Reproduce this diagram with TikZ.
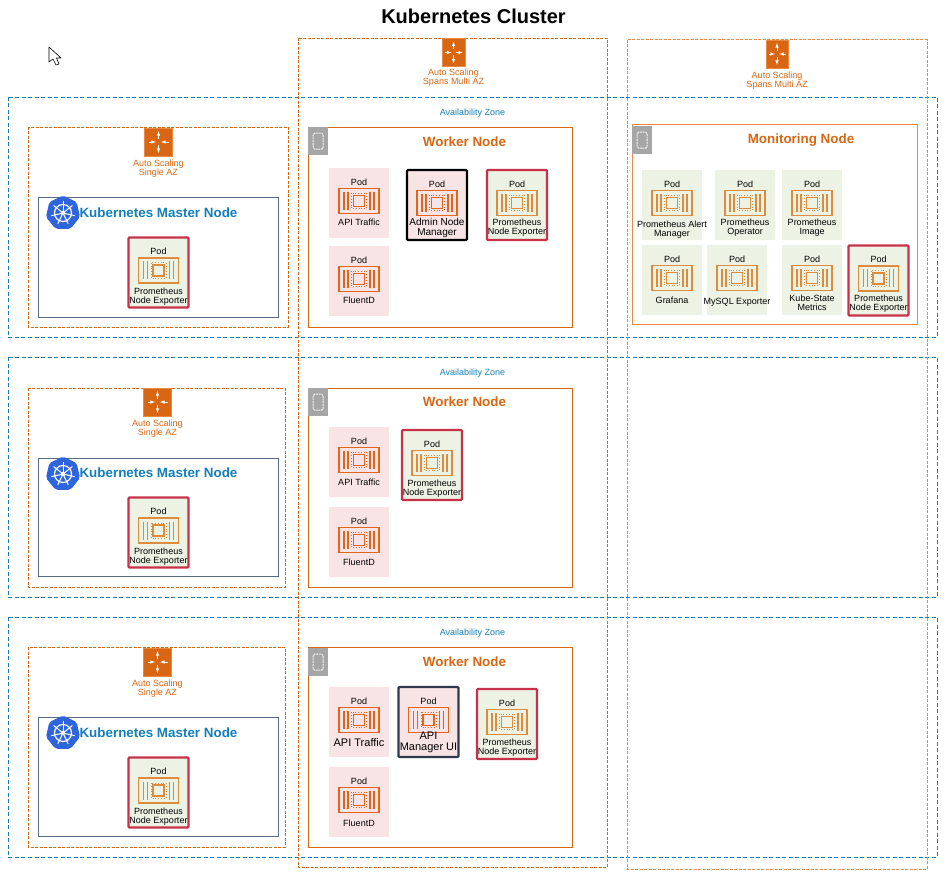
\documentclass[tikz,border=0pt]{standalone}
\usepackage{fontspec}
\setmainfont{Liberation Sans}
\usetikzlibrary{shapes.geometric}

\definecolor{awsorange}{HTML}{D86613}
\definecolor{awslight}{HTML}{E88A45}
\definecolor{awsblue}{HTML}{147EBA}
\definecolor{awsslate}{HTML}{5A6B86}
\definecolor{podpink}{HTML}{F8E4E4}
\definecolor{podgreen}{HTML}{ECF3E4}
\definecolor{podred}{HTML}{C7314A}
\definecolor{poddark}{HTML}{2F3B4C}
\definecolor{kubeblue}{HTML}{2F65DC}
\definecolor{chipgrey}{HTML}{A6A6A6}
\definecolor{icongreen}{HTML}{DD8C3E}
\definecolor{iconpink}{HTML}{E0661E}

\newcommand{\fs}[1]{\fontsize{#1}{#1}\selectfont}

\tikzset{
    x=1pt, y=-1pt,
    zone/.style={draw=awsblue, dash pattern=on 4pt off 2.5pt, line width=0.8pt},
    scaling/.style={draw=awsorange, dash pattern=on 3pt off 1.5pt, line width=0.8pt},
    scalingwide/.style={draw=awslight, dash pattern=on 3pt off 1.5pt, line width=1pt},
    txt/.style={inner sep=0pt, align=center, font=\fs{9}, yshift=-0.8pt},
    txtorange/.style={txt, text=awsorange},
    txtblue/.style={txt, text=awsblue},
    heading/.style={inner sep=0pt, font=\fs{13.4}\bfseries, yshift=-0.8pt},
    podbase/.style={anchor=north west, inner sep=0pt, outer sep=0pt, minimum width=60pt, minimum height=70pt},
    podp/.style={podbase, fill=podpink},
    podg/.style={podbase, fill=podgreen},
    podredbox/.style={podg, draw=podred, line width=2.2pt, rounded corners=1pt},
    podblackbox/.style={podp, draw=black, line width=2.2pt, rounded corners=1pt},
    poddarkbox/.style={podp, draw=poddark, line width=2.2pt, rounded corners=1pt},
    scalebox/.style={fill=awsorange, draw=awslight, line width=0.4pt, inner sep=0pt, minimum height=28pt},
    chipbox/.style={anchor=north west, fill=chipgrey, inner sep=0pt, minimum width=20pt, minimum height=28pt},
    pics/podicon/.style={code={
        \draw[#1, line width=1.4pt] (-20,-12.5) rectangle (20,12.5);
        \draw[#1, line width=1.4pt] (-15,-9) -- (-15,9) (-11,-9) -- (-11,9) (15,-9) -- (15,9) (11,-9) -- (11,9);
        \draw[#1, line width=1.8pt] (-5.5,-5.5) rectangle (5.5,5.5);
        \draw[#1, line width=0.8pt, dotted] (-7.6,-7.6) rectangle (7.6,7.6);
    }},
    pics/scaleicon/.style={code={
        \draw[white, line width=0.6pt, -latex] (0,-3) -- (0,-11);
        \draw[white, line width=0.6pt, -latex] (0,3) -- (0,11);
        \draw[white, line width=0.6pt, -latex] (-10,0) -- (-2.5,0);
        \draw[white, line width=0.6pt, -latex] (10,0) -- (2.5,0);
    }},
    pics/chipicon/.style={code={
        \draw[white!85!chipgrey, line width=1pt, dash pattern=on 2pt off 0.7pt, rounded corners=1.5pt] (-5,-8) rectangle (5,8);
    }},
    pics/kubeicon/.style={code={
        \node[regular polygon, regular polygon sides=7, fill=kubeblue, inner sep=0pt, minimum size=35pt, rounded corners=2pt] {};
        \draw[white, line width=1.2pt] (0,0) circle (8.5);
        \fill[white] (0,0) circle (2.2);
        \foreach \ang in {90,141.4,192.9,244.3,295.7,347.1,38.6} {
            \draw[white, line width=1pt] (0,0) -- (\ang:-12);
        }
    }},
}

\newcommand{\podbox}[7]{
    \node[#4] (#1) at (#2,#3) {};
    \node[txt] (#1-pod) at ([yshift=-13pt]#1.north) {Pod};
    \path (#1.north) ++(0,33) pic {podicon=#5};
    \node[txt] (#1-name) at ([yshift=-#6pt]#1.north) {#7};
}

\begin{document}
\begin{tikzpicture}
    \useasboundingbox (0,0) rectangle (950,885);

    \node[inner sep=0pt, font=\fs{20}\bfseries] (title) at (473.5,16) {Kubernetes Cluster};

    \draw[black, fill=white, line width=0.6pt, line join=round] (49,47) -- (49,62) -- (53,59) -- (56,65) -- (59,64) -- (56.5,58) -- (61,58) -- cycle;

    % availability zones
    \draw[zone] (8,97) rectangle (937,337);
    \draw[zone] (8,357) rectangle (937,597);
    \draw[zone] (8,617) rectangle (937,857);
    \node[txtblue] (zone1) at (472.5,112) {Availability Zone};
    \node[txtblue] (zone2) at (472.5,372) {Availability Zone};
    \node[txtblue] (zone3) at (472.5,632) {Availability Zone};

    % auto scaling groups
    \draw[scaling] (298,38) rectangle (607,867);
    \draw[scalingwide] (627,40) rectangle (927,869);
    \draw[scaling] (28,127) rectangle (288,327);
    \draw[scaling] (28,388) rectangle (285,587);
    \draw[scaling] (28,647) rectangle (285,847);

    \node[scalebox, minimum width=23pt] (span1) at (453.5,52.5) {};
    \path (span1) pic[xscale=0.85] {scaleicon};
    \node[txtorange] (span1-text) at (453.5,77) {Auto Scaling\\Spans Multi AZ};
    \node[scalebox, minimum width=22pt] (span2) at (777,54) {};
    \path (span2) pic[xscale=0.85] {scaleicon};
    \node[txtorange] (span2-text) at (777,79.5) {Auto Scaling\\Spans Multi AZ};

    \node[scalebox, minimum width=28pt] (single1) at (158.5,142) {};
    \path (single1) pic {scaleicon};
    \node[txtorange] (single1-text) at (158.5,167.5) {Auto Scaling\\Single AZ};
    \node[scalebox, minimum width=28pt] (single2) at (157.5,402) {};
    \path (single2) pic {scaleicon};
    \node[txtorange] (single2-text) at (157.5,427.5) {Auto Scaling\\Single AZ};
    \node[scalebox, minimum width=28pt] (single3) at (157.5,662) {};
    \path (single3) pic {scaleicon};
    \node[txtorange] (single3-text) at (157.5,687.5) {Auto Scaling\\Single AZ};

    % master nodes
    \draw[awsslate, line width=0.9pt] (38,197) rectangle (278,317);
    \draw[awsslate, line width=0.9pt] (38,458) rectangle (278,576);
    \draw[awsslate, line width=0.9pt] (38,717) rectangle (278,836);
    \path (63,213) pic {kubeicon};
    \path (63,474) pic {kubeicon};
    \path (63,733) pic {kubeicon};
    \node[heading, text=awsblue] (master1) at (158.5,211.5) {Kubernetes Master Node};
    \node[heading, text=awsblue] (master2) at (158.5,471.5) {Kubernetes Master Node};
    \node[heading, text=awsblue] (master3) at (158.5,731.5) {Kubernetes Master Node};
    \podbox{mexp1}{128.5}{237.5}{podredbox}{icongreen}{58}{Prometheus\\Node Exporter}
    \podbox{mexp2}{128.5}{497.5}{podredbox}{icongreen}{58}{Prometheus\\Node Exporter}
    \podbox{mexp3}{128.5}{757.5}{podredbox}{icongreen}{58}{Prometheus\\Node Exporter}

    % worker nodes
    \draw[awsorange, line width=0.9pt] (308,127) rectangle (572,327);
    \draw[awsorange, line width=0.9pt] (308,388) rectangle (572,587);
    \draw[awsorange, line width=0.9pt] (308,647) rectangle (572,847);
    \node[chipbox] (chip1) at (308,127) {};
    \path (chip1) pic {chipicon};
    \node[chipbox] (chip2) at (308,388) {};
    \path (chip2) pic {chipicon};
    \node[chipbox] (chip3) at (308,648) {};
    \path (chip3) pic {chipicon};
    \node[heading, text=awsorange] (worker1) at (464.5,141) {Worker Node};
    \node[heading, text=awsorange] (worker2) at (464.5,401) {Worker Node};
    \node[heading, text=awsorange] (worker3) at (464.5,661) {Worker Node};

    \podbox{traffic1}{329}{168}{podp}{iconpink}{53}{API Traffic}
    \podbox{fluent1}{329}{246}{podp}{iconpink}{53}{FluentD}
    \podbox{admin}{407}{170}{podblackbox}{iconpink}{57}{\fs{10}Admin Node\\[1pt]\fs{10}Manager}
    \podbox{wexp1}{487}{170}{podredbox}{icongreen}{57}{Prometheus\\Node Exporter}

    \podbox{traffic2}{329}{427}{podp}{iconpink}{54}{API Traffic}
    \podbox{fluent2}{329}{507}{podp}{iconpink}{54}{FluentD}
    \podbox{wexp2}{402}{430}{podredbox}{icongreen}{58}{Prometheus\\Node Exporter}

    \podbox{traffic3}{329}{687}{podp}{iconpink}{55}{\fs{11}API Traffic}
    \podbox{fluent3}{329}{767}{podp}{iconpink}{55}{FluentD}
    \podbox{apimgr}{398.5}{687}{poddarkbox}{iconpink}{55}{\fs{11}API\\[2pt]\fs{11}Manager UI}
    \podbox{wexp3}{477}{689}{podredbox}{icongreen}{58}{Prometheus\\Node Exporter}

    % monitoring node
    \draw[awslight, line width=1pt] (632,125) rectangle (917,324);
    \node[chipbox] (chip4) at (632,126) {};
    \path (chip4) pic {chipicon};
    \node[heading, text=awsorange] (monitor) at (801,139) {Monitoring Node};

    \podbox{alert}{642}{170}{podg}{icongreen}{59}{Prometheus Alert\\Manager}
    \podbox{operator}{715}{170}{podg}{icongreen}{57}{Prometheus\\Operator}
    \podbox{image}{782}{170}{podg}{icongreen}{57}{Prometheus\\Image}
    \podbox{grafana}{642}{245}{podg}{icongreen}{54}{Grafana}
    \podbox{mysql}{707}{245}{podg}{icongreen}{56}{MySQL Exporter}
    \podbox{metrics}{782}{245}{podg}{icongreen}{57}{Kube-State\\Metrics}
    \podbox{mexp4}{848.5}{245.5}{podredbox}{icongreen}{57}{Prometheus\\Node Exporter}
\end{tikzpicture}
\end{document}
